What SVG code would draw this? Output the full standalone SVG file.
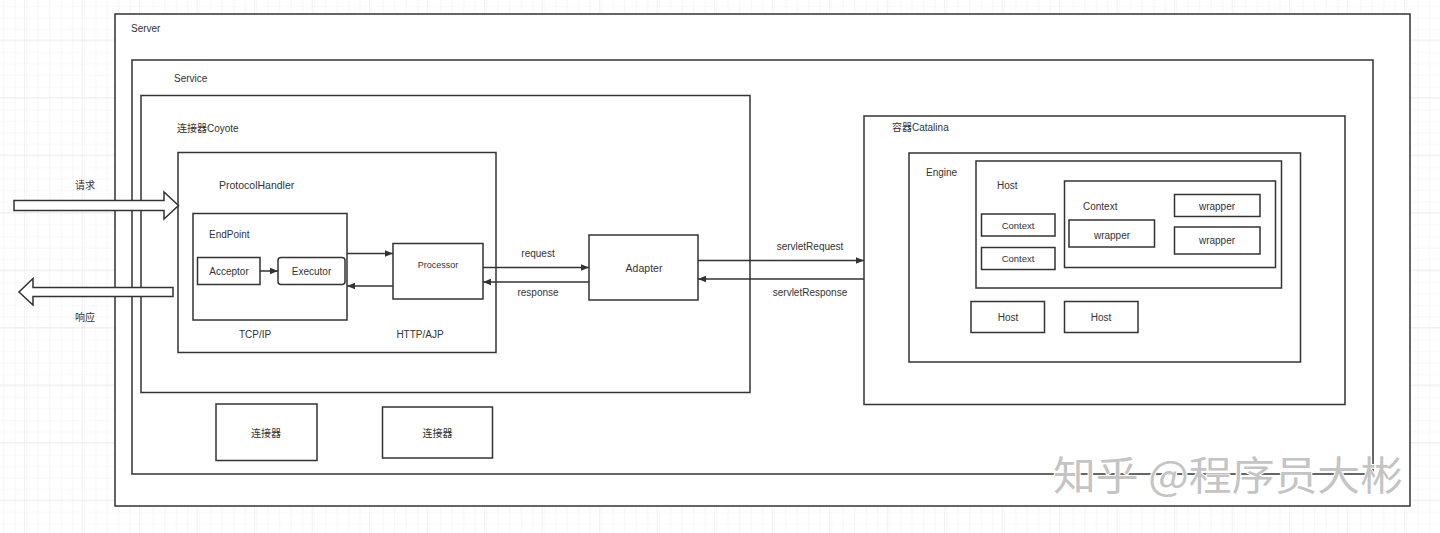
<svg xmlns="http://www.w3.org/2000/svg" width="1440" height="533" viewBox="0 0 1440 533">
<defs>
<pattern id="gMinor" x="2" y="1" width="11.5" height="11.5" patternUnits="userSpaceOnUse">
<path d="M11.5 0V11.5M0 11.5H11.5" fill="none" stroke="#efefef" stroke-width="1"/>
</pattern>
<pattern id="gMajor" x="25.2" y="40.5" width="57.5" height="57.5" patternUnits="userSpaceOnUse">
<rect width="57.5" height="57.5" fill="url(#gMinor)"/>
<path d="M57.5 0V57.5M0 57.5H57.5" fill="none" stroke="#e3e3e3" stroke-width="1"/>
</pattern>
<marker id="ah" viewBox="0 0 10 10" refX="10" refY="5" markerWidth="8" markerHeight="8" markerUnits="userSpaceOnUse" orient="auto">
<path d="M0 1L10 5L0 9Z" fill="#333"/>
</marker>
</defs>
<style>
.box{fill:#fff;stroke:#333;stroke-width:1.5}
.bx{fill:none;stroke:#333;stroke-width:1.5}
.t{font-family:"Liberation Sans","Noto Sans CJK SC",sans-serif;font-size:10px;fill:#333}
.c{text-anchor:middle}
.ln{fill:none;stroke:#333;stroke-width:1.5}
.big{fill:#fff;stroke:#333;stroke-width:1.5;stroke-linejoin:miter}
.wm{font-family:"Noto Sans CJK SC",sans-serif;font-size:40px;fill:#c4c4c4;stroke:#fff;stroke-width:2;paint-order:stroke}
</style>
<rect width="1440" height="533" fill="#fff"/>
<rect width="1440" height="533" fill="url(#gMajor)"/>

<g id="server"><rect class="box" x="115" y="14" width="1295" height="492"/><text class="t" x="131" y="32">Server</text></g>
<g id="service"><rect class="box" x="132" y="60" width="1241" height="414"/><text class="t" x="174" y="81.5">Service</text></g>
<g id="coyote"><rect class="box" x="141" y="95.5" width="609" height="297"/><text class="t" x="177" y="131.5">连接器Coyote</text></g>
<g id="protocolHandler"><rect class="box" x="178" y="152.5" width="318" height="200"/><text class="t" x="219" y="188.5" style="font-size:10.5px">ProtocolHandler</text></g>
<g id="endpoint"><rect class="box" x="193" y="213.5" width="154" height="106.5"/><text class="t" x="209" y="237.5">EndPoint</text></g>
<g id="acceptor"><rect class="box" x="197.5" y="257.5" width="62.5" height="27"/><text class="t c" x="229" y="274.5">Acceptor</text></g>
<g id="executor"><rect class="box" x="278" y="257.5" width="67" height="27" rx="3"/><text class="t c" x="311.5" y="274.5">Executor</text></g>
<g id="processor"><rect class="box" x="393" y="243.5" width="90" height="55.5"/><text class="t c" x="438" y="268" style="font-size:9px">Processor</text></g>
<g id="tcpip"><text class="t c" x="255" y="338">TCP/IP</text></g>
<g id="httpajp"><text class="t c" x="420" y="338">HTTP/AJP</text></g>
<g id="adapter"><rect class="box" x="589" y="235" width="109" height="65"/><text class="t c" x="644" y="271.5" style="font-size:10.5px">Adapter</text></g>

<g id="catalina"><rect class="box" x="864" y="116" width="481" height="288.5"/><text class="t" x="892" y="131">容器Catalina</text></g>
<g id="engine"><rect class="box" x="909" y="153" width="391.5" height="209"/><text class="t" x="926" y="175.5">Engine</text></g>
<g id="host"><rect class="box" x="976" y="161" width="305.5" height="127"/><text class="t" x="997" y="189">Host</text></g>
<g id="context1"><rect class="box" x="981.5" y="214" width="73.5" height="22"/><text class="t c" x="1018" y="228.5" style="font-size:9.5px">Context</text></g>
<g id="context2"><rect class="box" x="981.5" y="247.5" width="73.5" height="22"/><text class="t c" x="1018" y="261.5" style="font-size:9.5px">Context</text></g>
<g id="contextBig"><rect class="box" x="1064.5" y="181" width="211" height="86.5"/><text class="t" x="1083" y="209.5">Context</text></g>
<g id="wrapper1"><rect class="box" x="1069" y="220" width="85.5" height="27"/><text class="t c" x="1112" y="238.5">wrapper</text></g>
<g id="wrapper2"><rect class="box" x="1174.5" y="194.5" width="85.5" height="22"/><text class="t c" x="1217" y="209.5">wrapper</text></g>
<g id="wrapper3"><rect class="box" x="1174.5" y="227" width="85.5" height="27"/><text class="t c" x="1217" y="244">wrapper</text></g>
<g id="host1"><rect class="box" x="971" y="301.5" width="73.5" height="31"/><text class="t c" x="1008" y="321">Host</text></g>
<g id="host2"><rect class="box" x="1064.5" y="301.5" width="73.5" height="31"/><text class="t c" x="1101" y="321">Host</text></g>

<g id="connector1"><rect class="box" x="216" y="404" width="101" height="56.5"/><text class="t c" x="266" y="437">连接器</text></g>
<g id="connector2"><rect class="box" x="382.5" y="407" width="110" height="51"/><text class="t c" x="437.5" y="437">连接器</text></g>

<g id="connectors">
<polygon class="big" points="14,200.5 164,200.5 164,192 178.5,205.5 164,219 164,210.5 14,210.5"/>
<polygon class="big" points="173,287.5 33,287.5 33,278.5 19,292 33,305 33,296.5 173,296.5"/>
<text class="t c" x="85" y="188.5">请求</text>
<text class="t c" x="85" y="320.5">响应</text>
<line class="ln" x1="260" y1="271" x2="278" y2="271" marker-end="url(#ah)"/>
<line class="ln" x1="347" y1="253.5" x2="393" y2="253.5" marker-end="url(#ah)"/>
<line class="ln" x1="393" y1="286" x2="347" y2="286" marker-end="url(#ah)"/>
<line class="ln" x1="483" y1="267.5" x2="589" y2="267.5" marker-end="url(#ah)"/>
<line class="ln" x1="589" y1="282" x2="483" y2="282" marker-end="url(#ah)"/>
<text class="t c" x="538" y="256.5">request</text>
<text class="t c" x="538" y="296">response</text>
<line class="ln" x1="698" y1="260.5" x2="864" y2="260.5" marker-end="url(#ah)"/>
<line class="ln" x1="864" y1="279" x2="698" y2="279" marker-end="url(#ah)"/>
<text class="t c" x="810" y="250">servletRequest</text>
<text class="t c" x="810" y="296">servletResponse</text>
</g>

<text class="wm" x="1053" y="490" textLength="350" lengthAdjust="spacingAndGlyphs">知乎 @程序员大彬</text>
</svg>
